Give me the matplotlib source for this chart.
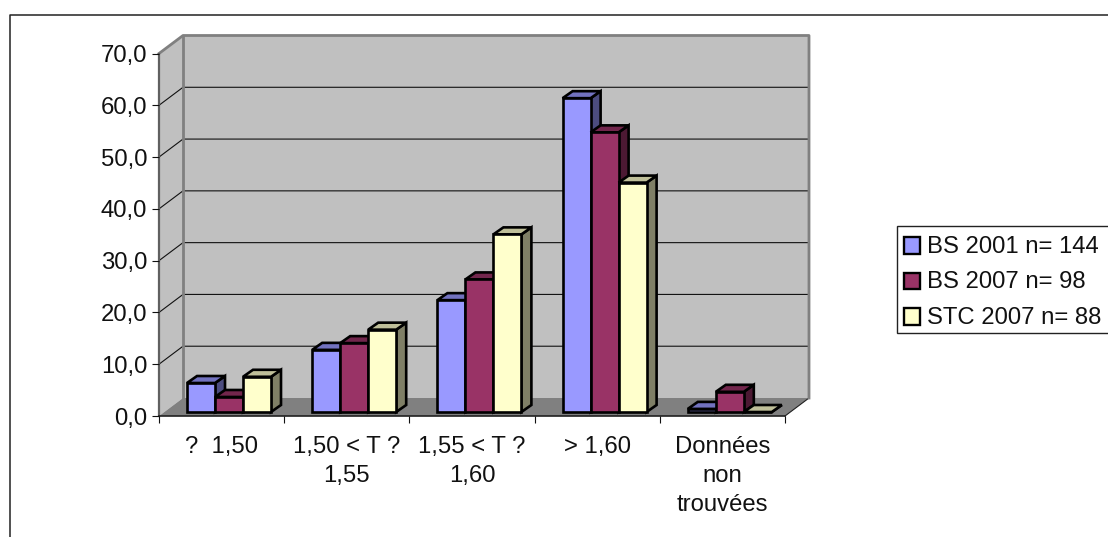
import matplotlib
matplotlib.use("Agg")
import matplotlib.pyplot as plt
from matplotlib.patches import Polygon, Patch
from matplotlib.lines import Line2D

plt.rcParams['font.family'] = ['Liberation Sans', 'DejaVu Sans']

categories = ["?  1,50", "1,50 < T ?\n1,55", "1,55 < T ?\n1,60", "> 1,60", "Données\nnon\ntrouvées"]
bs2001 = [5.6, 12.0, 21.6, 60.6, 0.6]
bs2007 = [2.9, 13.3, 25.6, 54.0, 3.9]
stc2007 = [6.8, 15.9, 34.3, 44.3, 0.0]
series_names = ["BS 2001 n= 144", "BS 2007 n= 98", "STC 2007 n= 88"]
y_ticks = [0, 10, 20, 30, 40, 50, 60, 70]
y_labels = ["0,0", "10,0", "20,0", "30,0", "40,0", "50,0", "60,0", "70,0"]

front_c = ["#9999FF", "#993366", "#FFFFCC"]
top_c = ["#7272BF", "#72264C", "#BFBF99"]
side_c = ["#4C4C7F", "#4C1933", "#7F7F66"]

W, H = 1108, 537
FS = 17.2
fig = plt.figure(figsize=(W / 100, H / 100), dpi=100, facecolor="white")
L, R, B, T = 159, 785, 416, 53.5
ax = fig.add_axes([L / W, 1 - B / H, (R - L) / W, (B - T) / H])
ax.set_xlim(0, 5)
ax.set_ylim(0, 70)
ax.patch.set_visible(False)
for s in ax.spines.values():
    s.set_visible(False)

px = 5 / (R - L)          # data per px in x
py = 70 / (B - T)         # data per px in y
DX, DY = 24 * px, 18 * py  # wall depth
bw = 28 * px
gx, gy = 28 * px, 4 * py   # bar offset inside the floor depth
bx, by = 10 * px, 7 * py   # bar depth


def poly(pts, fc, ec="none", lw=0, z=1):
    ax.add_patch(Polygon(pts, closed=True, facecolor=fc, edgecolor=ec, linewidth=lw,
                         clip_on=False, zorder=z, joinstyle="miter"))


# walls and floor
poly([(0, 0), (DX, DY), (DX, 70 + DY), (0, 70)], "#C0C0C0", z=1)
poly([(DX, DY), (5 + DX, DY), (5 + DX, 70 + DY), (DX, 70 + DY)], "#C0C0C0", z=1)
poly([(0, 0), (5, 0), (5 + DX, DY), (DX, DY)], "#808080", z=1.1)

for v in y_ticks[1:-1]:
    ax.plot([0, DX, 5 + DX], [v, v + DY, v + DY], color="#111111", lw=0.8, clip_on=False, zorder=1.2)
grey = dict(color="#808080", lw=2.0, clip_on=False, zorder=1.3, solid_capstyle="projecting")
ax.plot([DX, DX], [DY, 70 + DY], **grey)
ax.plot([0, DX, 5 + DX, 5 + DX], [70, 70 + DY, 70 + DY, DY], **grey)
ax.plot([0, 0], [0, 70], color="#606060", lw=1.6, clip_on=False, zorder=1.4)
ax.plot([0, 5], [0, 0], color="#202020", lw=1.2, clip_on=False, zorder=1.4)
ax.plot([5, 5 + DX], [0, DY], color="#202020", lw=0.8, clip_on=False, zorder=1.2)

# bars
lw = 1.9
z = 2.0
for i in range(len(categories)):
    for j, vals in enumerate([bs2001, bs2007, stc2007]):
        x0 = i + gx + j * bw
        x1 = x0 + bw
        base = gy
        top = base + vals[i]
        poly([(x1, base), (x1 + bx, base + by), (x1 + bx, top + by), (x1, top)], side_c[j], "black", lw, z)
        poly([(x0, top), (x1, top), (x1 + bx, top + by), (x0 + bx, top + by)], top_c[j], "black", lw, z + 0.01)
        ax.bar(x0, vals[i], width=bw, bottom=base, align="edge", color=front_c[j], edgecolor="black",
               linewidth=lw, clip_on=False, zorder=z + 0.02)
        z += 0.1

ax.set_yticks(y_ticks, y_labels, fontsize=FS, color="#111111")
ax.set_xticks([0, 1, 2, 3, 4, 5])
ax.set_xticklabels([])
ax.set_xticks([0.5, 1.5, 2.5, 3.5, 4.5], categories, minor=True, fontsize=FS, color="#111111",
              linespacing=1.42)
ax.tick_params(axis="both", which="major", direction="out", length=5, width=0.8, color="#111111", pad=3.6)
ax.tick_params(axis="x", which="minor", length=0, pad=14.5)

# chart frame, partly cut by the picture's edge
fig.add_artist(Line2D([9.5 / W, 9.5 / W, 1.0], [0, 1 - 14.5 / H, 1 - 14.5 / H],
                      color="#222222", lw=1.1, transform=fig.transFigure))

handles = [Patch(facecolor=c, edgecolor="black", linewidth=1.7) for c in front_c]
leg = fig.legend(handles, series_names, loc="upper left", bbox_to_anchor=(897 / W, 1 - 225.5 / H),
                 bbox_transform=fig.transFigure, fontsize=FS, frameon=True, fancybox=False,
                 framealpha=1, edgecolor="#222222", borderaxespad=0, borderpad=0.3,
                 handlelength=0.68, handleheight=0.68, handletextpad=0.29, labelspacing=0.57,
                 labelcolor="#111111")
leg.get_frame().set_linewidth(1.0)
# entries sit a little lower inside the frame than matplotlib's default
for t in leg.get_texts():
    t.set_position((0, -3))
for h in leg.legend_handles:
    h.set_y(h.get_y() - 3)

fig.savefig("out.png", dpi=100, facecolor="white")
